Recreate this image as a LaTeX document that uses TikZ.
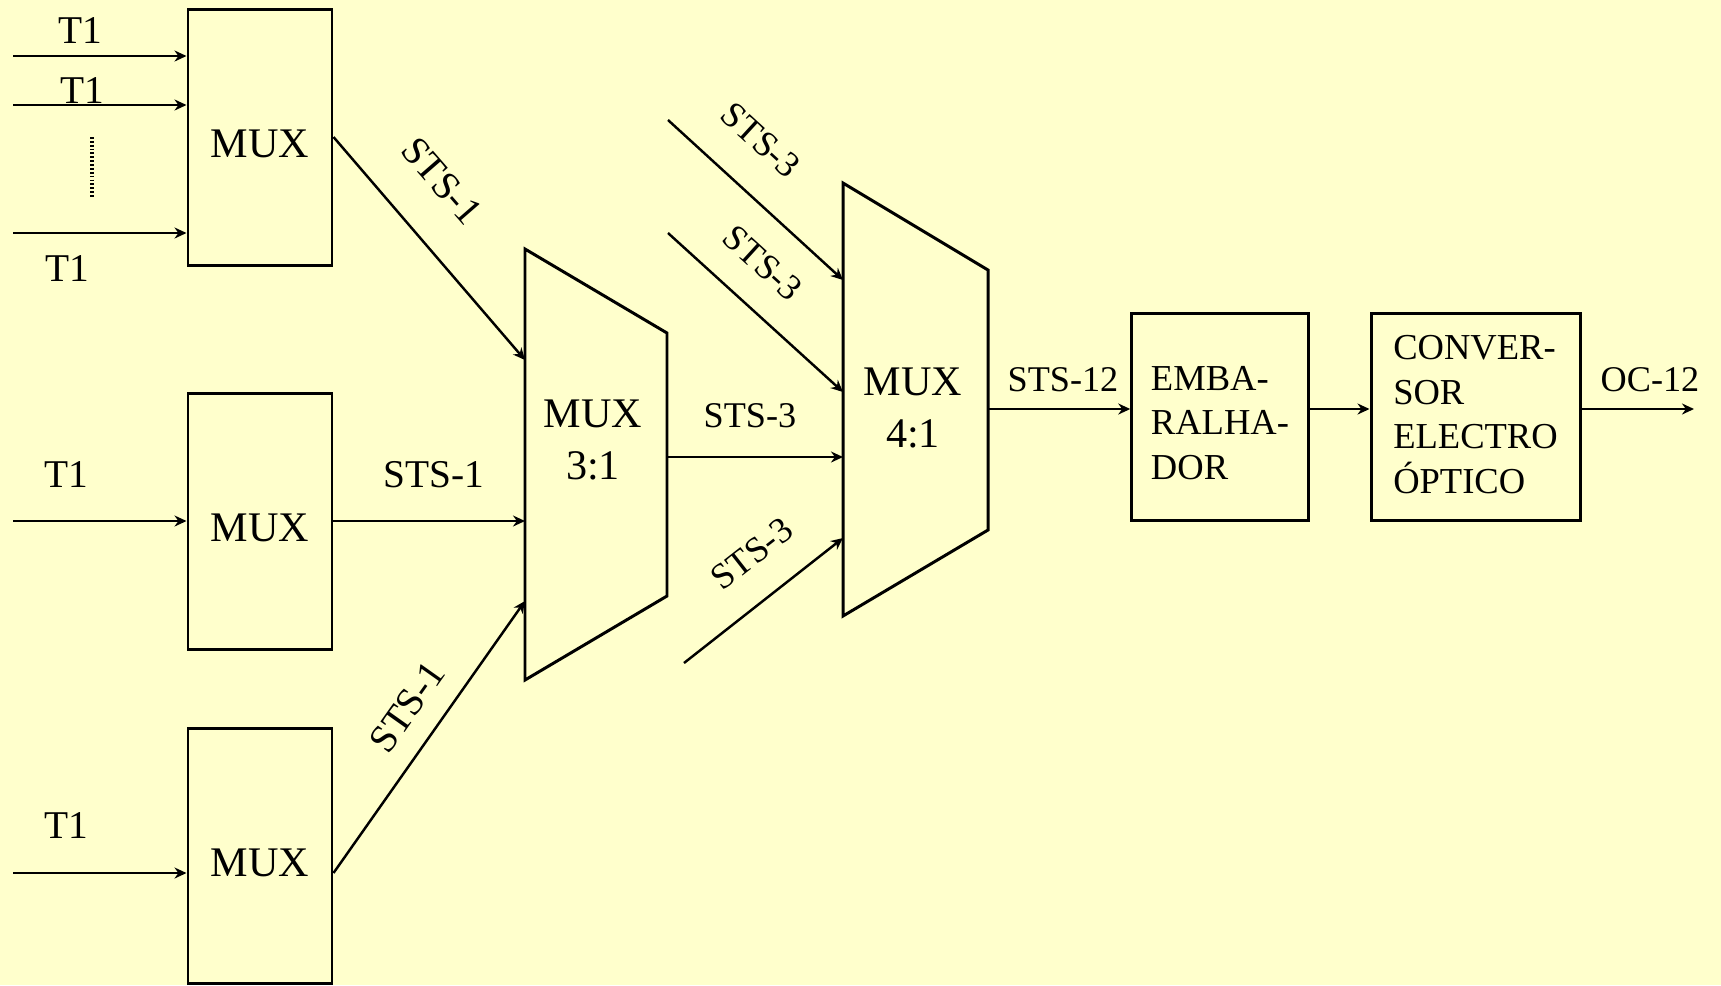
\documentclass[tikz,border=0pt]{standalone}
\usepackage{fontspec}
\setmainfont{Liberation Serif}
\usetikzlibrary{arrows.meta}
\definecolor{slidebg}{RGB}{255,255,204}

\begin{document}
\begin{tikzpicture}[
    x=0.1mm, y=-0.1mm,
    box/.style={draw, line width=0.85pt, inner sep=0pt},
    muxbox/.style={box, minimum width=14.4mm, minimum height=25.6mm, text height=11.7pt, text depth=0pt,
      font=\fontsize{12}{14.4}\selectfont},
    blk/.style={box, minimum height=20.7mm},
    blktxt/.style={align=left, inner sep=0pt, font=\fontsize{10.4}{12.7}\selectfont},
    trap/.style={draw, line width=0.85pt, line join=miter},
    mlbl/.style={align=center, inner sep=0pt, font=\fontsize{12}{14.8}\selectfont},
    sig/.style={inner sep=0pt, font=\fontsize{11.2}{13.4}\selectfont},
    sigs/.style={inner sep=0pt, font=\fontsize{10.3}{12.4}\selectfont},
    wire/.style={line width=0.7pt},
    >={Stealth[length=1.2mm, width=1.1mm]}
]
\useasboundingbox[fill=slidebg] (0,0) rectangle (1721,985);

% first stage: T1 -> STS-1
\node[muxbox] (mux1) at (260,137) {MUX};
\node[muxbox] (mux2) at (260,521) {MUX};
\node[muxbox, minimum height=25.5mm] (mux3) at (260,855.5) {MUX};

% second and third stage
\draw[trap] (525,249) -- (667,333) -- (667,596) -- (525,680) -- cycle;
\node[mlbl] (m31) at (593,440) {MUX\\3:1};
\draw[trap] (843,183) -- (988,270) -- (988,530) -- (843,616) -- cycle;
\node[mlbl] (m41) at (913,408) {MUX\\4:1};

\node[blk, minimum width=17.65mm,
  label={[blktxt, yshift=-0.65mm]center:{EMBA-\\RALHA-\\DOR}}] (emba) at (1220,416.5) {};
\node[blk, minimum width=20.9mm,
  label={[blktxt, yshift=0.2mm]center:{CONVER-\\SOR\\ELECTRO\\ÓPTICO}}] (conv) at (1475.5,416.5) {};

% end points
\coordinate (t1a) at (13,56);
\coordinate (t1b) at (13,105);
\coordinate (t1c) at (13,233);
\coordinate (t1d) at (13,521);
\coordinate (t1e) at (13,873);
\coordinate (m31a) at (525,360);
\coordinate (m31b) at (525,521);
\coordinate (m31c) at (525,601);
\coordinate (m31o) at (667,457);
\coordinate (s3a) at (668,120);
\coordinate (s3b) at (668,233);
\coordinate (s3d) at (684,663);
\coordinate (m41a) at (843,280);
\coordinate (m41b) at (843,392);
\coordinate (m41c) at (843,457);
\coordinate (m41d) at (843,538);
\coordinate (m41o) at (988,409);
\coordinate (oc) at (1694,409);

\foreach \a in {t1a, t1b, t1c}
  \draw[wire, ->] (\a) -- (\a -| mux1.west);
\draw[wire, ->] (t1d) -- (mux2.west);
\draw[wire, ->] (t1e) -- (t1e -| mux3.west);
\draw[line width=0.9pt, dash pattern=on 0.5pt off 0.6pt] (92,137) -- (92,198);

\draw[wire, ->] (mux1.east) -- (m31a);
\draw[wire, ->] (mux2.east) -- (m31b);
\draw[wire, ->] (t1e -| mux3.east) -- (m31c);
\foreach \a/\b in {m31o/m41c, s3a/m41a, s3b/m41b, s3d/m41d}
  \draw[wire, ->] (\a) -- (\b);
\draw[wire, ->] (m41o) -- (m41o -| emba.west);
\draw[wire, ->] (emba.east |- m41o) -- (m41o -| conv.west);
\draw[wire, ->] (conv.east |- m41o) -- (oc);

% labels
\node[sig] (la) at (80,30) {T1};
\node[sig] (lb) at (82,90) {T1};
\node[sig] (lc) at (67,268) {T1};
\node[sig] (ld) at (66,474) {T1};
\node[sig] (le) at (66,825) {T1};
\node[sig, rotate=-49] (s1a) at (442,181) {STS-1};
\node[sig] (s1b) at (434,475) {STS-1};
\node[sig, rotate=54.7] (s1c) at (407,707) {STS-1};
\node[sigs, rotate=-42.5] (l3a) at (761,140) {STS-3};
\node[sigs, rotate=-42.3] (l3b) at (763,263) {STS-3};
\node[sigs] (l3c) at (750,416) {STS-3};
\node[sigs, rotate=38] (l3d) at (752,554) {STS-3};
\node[sigs] (l12) at (1063,380) {STS-12};
\node[sigs] (loc) at (1650,380) {OC-12};

\end{tikzpicture}
\end{document}
